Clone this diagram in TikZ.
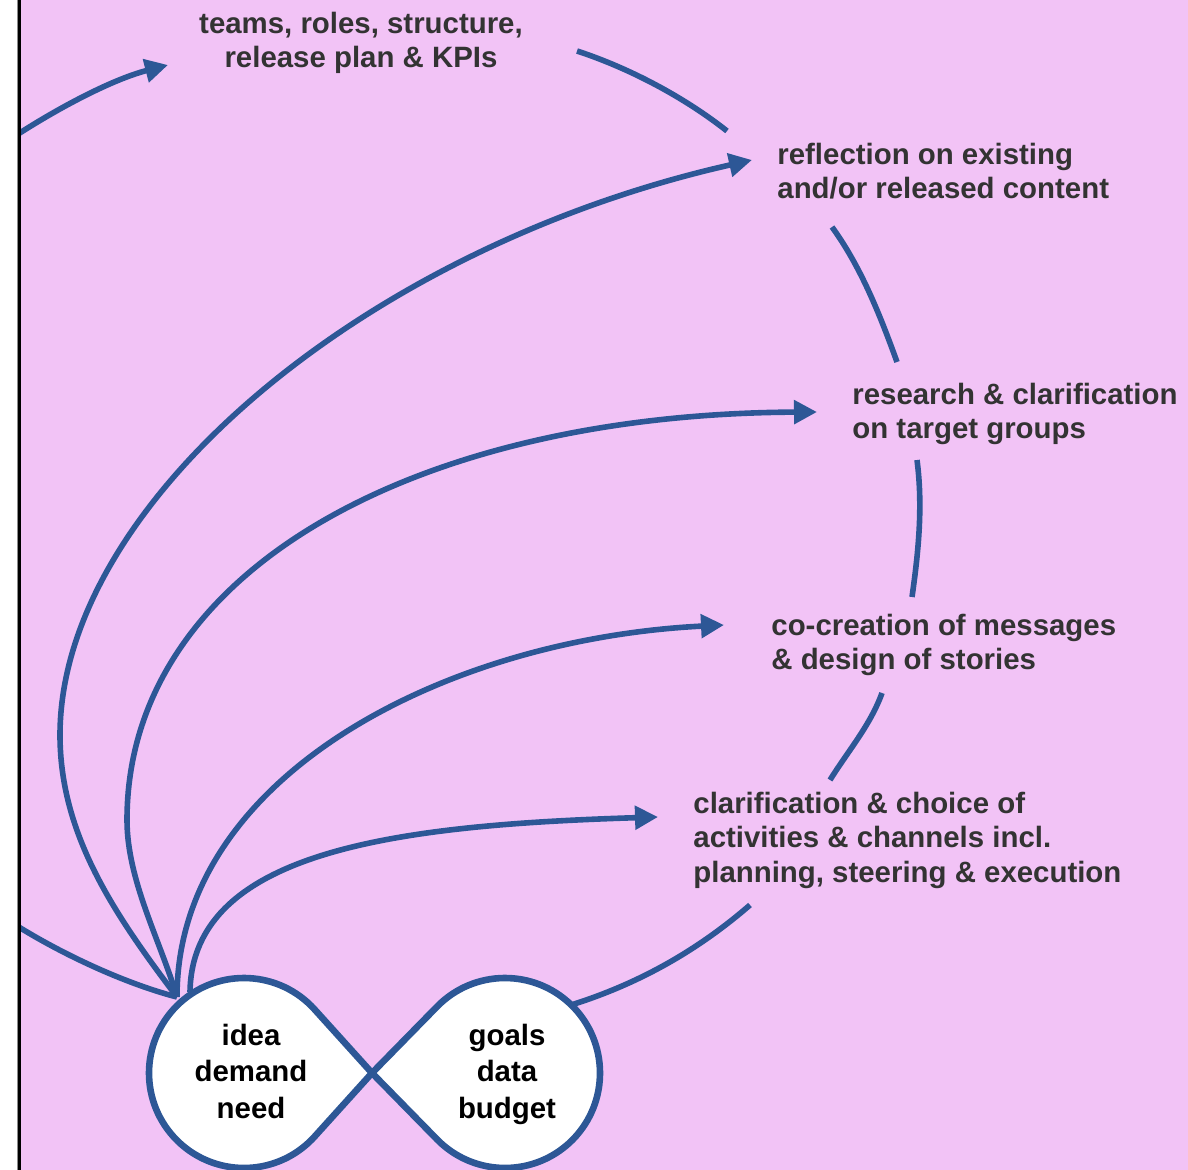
\documentclass[tikz,border=0pt]{standalone}
\usepackage{fontspec}
\setmainfont{Liberation Sans}
\usetikzlibrary{arrows.meta}
\definecolor{bg}{RGB}{242,195,246}
\definecolor{flow}{RGB}{45,87,150}
\definecolor{txt}{RGB}{51,51,51}
\begin{document}
\begin{tikzpicture}[x=0.5pt,y=-0.5pt,
  flowline/.style={draw=flow, line width=2.8pt},
  arr/.style={flowline, -{Triangle[length=11.5pt,width=11.5pt]}},
  lbl/.style={font=\fontsize{14.7}{17.25}\selectfont\bfseries, text=txt, inner sep=0pt, align=left, anchor=north west},
  lobetxt/.style={font=\fontsize{14.7}{18.25}\selectfont\bfseries, text=black, inner sep=0pt, align=center, anchor=north},
  lobe/.style={draw=flow, fill=white, line width=3.3pt, line join=round}]
\useasboundingbox (0,0) rectangle (1188,1170);
\fill[white] (0,0) rectangle (1188,1170);
\fill[bg] (20,0) rectangle (1188,1170);

% named points
\coordinate (F) at (177,997);
\coordinate (Fd) at (190,992);
\coordinate (Ma) at (60,735);
\coordinate (Mb) at (127,820);
\coordinate (tipA) at (752,160);
\coordinate (tipB) at (817,412);
\coordinate (tipC) at (724,625);
\coordinate (tipD) at (658,817);
\coordinate (tipT) at (168,65);
\coordinate (inT) at (0,146);
\coordinate (outL) at (0,915);
\coordinate (t1) at (577,51);
\coordinate (r0) at (727,131);
\coordinate (r1) at (832,227);
\coordinate (q0) at (897,362);
\coordinate (q1) at (917,460);
\coordinate (c0) at (912,597);
\coordinate (c1) at (882,693);
\coordinate (k0) at (830,780);
\coordinate (k1) at (750,905);
\coordinate (g0) at (571,1005);
\coordinate (X) at (372,1073);
\coordinate (CL) at (244,1073);
\coordinate (CR) at (505,1073);

\begin{scope}
\clip (20.5,0) rectangle (1188,1170);
% fan of arrows from the left lobe
\draw[arr] (F) .. controls (115,915) and (60,835) .. (Ma) .. controls (60,505) and (362,248) .. (tipA);
\draw[arr] (F) .. controls (160,940) and (127,880) .. (Mb) .. controls (127,570) and (417,414) .. (tipB);
\draw[arr] (F) .. controls (177,777) and (444,639) .. (tipC);
\draw[arr] (Fd) .. controls (192,850) and (400,825) .. (tipD);
\draw[arr] (inT) .. controls (50,112) and (110,80) .. (tipT);
\draw[flowline] (F) .. controls (130,985) and (60,955) .. (outL);
% cycle arcs
\draw[flowline] (t1) .. controls (629,68) and (684,97) .. (r0);
\draw[flowline] (r1) .. controls (861,267) and (880,315) .. (q0);
\draw[flowline] (q1) .. controls (923,506) and (918.5,551.5) .. (c0);
\draw[flowline] (c1) .. controls (870.5,725) and (848,751) .. (k0);
\draw[flowline] (k1) .. controls (697,951) and (638,984) .. (g0);
\end{scope}

% infinity lobes
\draw[lobe] (X) -- ([shift={(CL)}]-42.1:95) arc[start angle=-42.1,end angle=-317.9,radius=95] -- cycle;
\draw[lobe] (X) -- ([shift={(CR)}]224.4:95) arc[start angle=224.4,end angle=495.6,radius=95] -- cycle;

% labels
\node[lbl, align=center, anchor=north] (teams) at (361,8.85) {\strut teams, roles, structure,\\release plan \& KPIs};
\node[lbl] (refl) at (777,139.85) {\strut reflection on existing\\and/or released content};
\node[lbl] (res) at (852,379.85) {\strut research \& clarification\\on target groups};
\node[lbl] (cocr) at (771,610.85) {\strut co-creation of messages\\\& design of stories};
\node[lbl] (clar) at (693,788.85) {\strut clarification \& choice of\\activities \& channels incl.\\planning, steering \& execution};
\node[lobetxt] (idea) at (251,1019.45) {\strut idea\\demand\\need};
\node[lobetxt] (goals) at (507,1019.45) {\strut goals\\data\\budget};

% left border line
\draw[black!45, line width=0.6pt] (17.6,0) -- (17.6,1170);
\draw[black, line width=1.2pt] (19.4,0) -- (19.4,1170);
\end{tikzpicture}
\end{document}
